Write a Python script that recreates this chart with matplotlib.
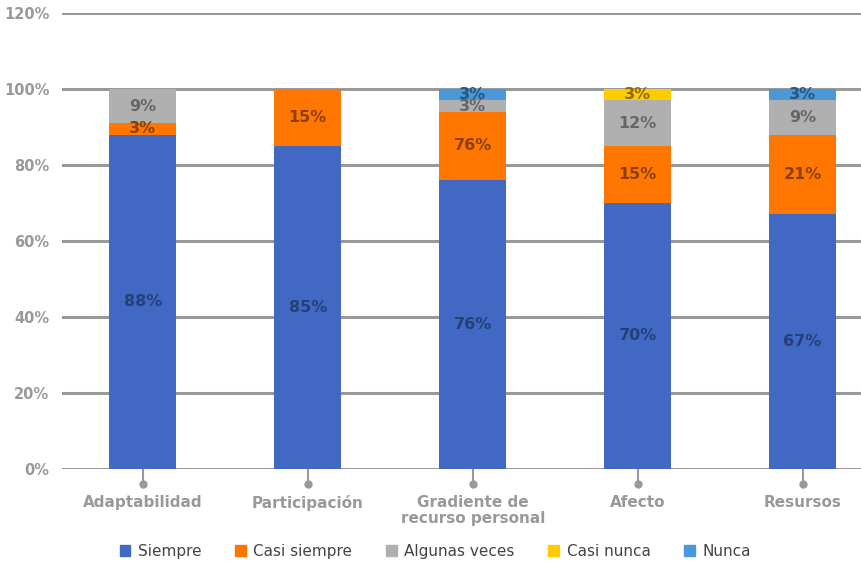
import numpy as np
import matplotlib
matplotlib.use("Agg")
import matplotlib.pyplot as plt
from matplotlib.patches import Patch

plt.rcParams['font.family'] = ['Liberation Sans Narrow', 'DejaVu Sans']

# Datos (%)
categorias = ["Adaptabilidad", "Participación", "Gradiente de\nrecurso personal", "Afecto", "Resursos"]
siempre = [88, 85, 76, 70, 67]
casi_siempre = [3, 15, 18, 15, 21]
algunas_veces = [9, 0, 3, 12, 9]
casi_nunca = [0, 0, 0, 3, 0]
nunca = [0, 0, 3, 0, 3]

# Etiquetas tal como aparecen en el gráfico
etq_siempre = ["88%", "85%", "76%", "70%", "67%"]
etq_casi_siempre = ["3%", "15%", "76%", "15%", "21%"]
etq_algunas = ["9%", "", "3%", "12%", "9%"]
etq_casi_nunca = ["", "", "", "3%", ""]
etq_nunca = ["", "", "3%", "", "3%"]

series = [
    ("Siempre", siempre, etq_siempre, "#4169C4", "#253f78"),
    ("Casi siempre", casi_siempre, etq_casi_siempre, "#FF7700", "#8a3f00"),
    ("Algunas veces", algunas_veces, etq_algunas, "#B0B0B0", "#666666"),
    ("Casi nunca", casi_nunca, etq_casi_nunca, "#FFCC00", "#8a6d00"),
    ("Nunca", nunca, etq_nunca, "#4A98D8", "#2a5580"),
]

fig = plt.figure(figsize=(8.62, 5.62), dpi=100)
ax = fig.add_axes([62 / 862, (562 - 469) / 562, 800 / 862, 456 / 562])

x = np.arange(len(categorias))
base = np.zeros(len(categorias))
for nombre, vals, etqs, color, tcolor in series:
    vals = np.array(vals, dtype=float)
    ax.bar(x, vals, bottom=base, width=0.405, color=color, zorder=3)
    for xi, b, v, t in zip(x, base, vals, etqs):
        if t:
            ax.text(xi, b + v / 2, t, ha="center", va="center", fontsize=11.5,
                    fontweight="bold", color=tcolor, zorder=4)
    base += vals

ax.set_xlim(-0.49, 4.36)
ax.set_ylim(0, 120)
ax.set_yticks(range(0, 121, 20))
ax.set_yticklabels([f"{v}%" for v in range(0, 121, 20)])
for y in range(0, 121, 20):
    ax.axhline(y, color="#999999", lw=2.2, zorder=1)

ax.tick_params(axis="y", length=0, pad=9, labelsize=10.5, labelcolor="#999999")
for lab in ax.get_yticklabels():
    lab.set_fontweight("bold")

ax.set_xticks(x)
ax.set_xticklabels(categorias, fontsize=11, fontweight="bold", color="#999999",
                   linespacing=1.05)
ax.tick_params(axis="x", length=0, pad=19)

# marcas con punto bajo cada categoría
for xi in x:
    ax.plot([xi, xi], [0, -4], color="#999999", lw=1.5, clip_on=False, zorder=2)
    ax.plot(xi, -4, "o", color="#999999", ms=5, clip_on=False, zorder=2)

for s in ax.spines.values():
    s.set_visible(False)

handles = [Patch(color=c, label=n) for n, _, _, c, _ in series]
fig.legend(handles=handles, loc="center", bbox_to_anchor=(0.505, 0.019),
           ncol=5, frameon=False, fontsize=11, handlelength=0.7, handleheight=0.7,
           columnspacing=2.2, handletextpad=0.5, labelcolor="#444444")

fig.savefig("out.png", dpi=100)
